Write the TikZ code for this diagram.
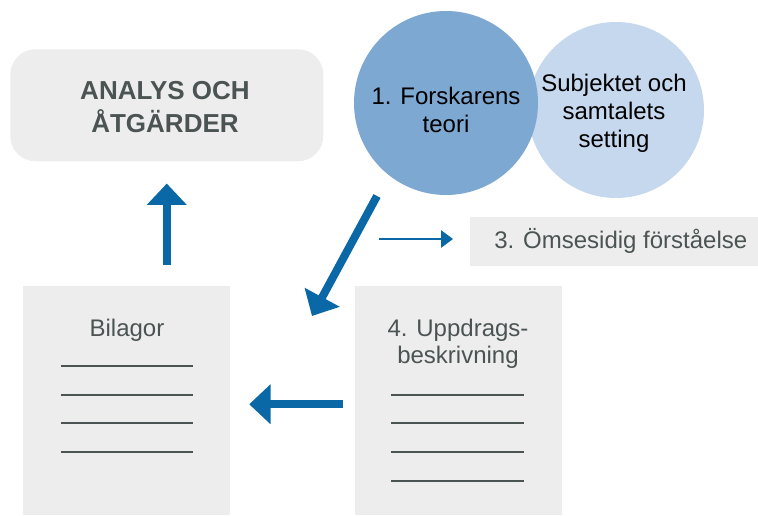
\documentclass[tikz,border=0pt]{standalone}
\usepackage{fontspec}
\setmainfont{Liberation Sans}
\usetikzlibrary{arrows.meta,positioning}
\definecolor{boxgray}{HTML}{EDEDED}
\definecolor{txtgray}{HTML}{4B5453}
\definecolor{darkblue}{HTML}{7DA8D2}
\definecolor{lightblue}{HTML}{C5D8EE}
\definecolor{arrowblue}{HTML}{0B68A6}
\tikzset{
  panel/.style={fill=boxgray,inner sep=0pt,anchor=north west},
  bubble/.style={circle,inner sep=0pt},
  boxtext/.style={anchor=base,align=center,text=txtgray,inner sep=0pt,
    font=\fontsize{18}{20.25}\selectfont},
  bubbletext/.style={anchor=base,align=center,inner sep=0pt,
    font=\fontsize{18}{21}\selectfont},
  bigarrow/.style={-{Triangle[length=16pt,width=29pt]},line width=6pt,arrowblue},
  thinarrow/.style={-{Triangle[length=9pt,width=13pt]},line width=1.5pt,arrowblue},
  blank/.style={txtgray,line width=0.8pt}
}
\begin{document}
\begin{tikzpicture}[x=0.75pt,y=-0.75pt]
\useasboundingbox (0,0) rectangle (758,515);
% boxes
\node[panel,rounded corners=19pt,minimum width=234.75pt,minimum height=84pt] (anal) at (10,49) {};
\node[panel,minimum width=155.25pt,minimum height=171.75pt] (bil) at (23,286) {};
\node[panel,minimum width=155.25pt,minimum height=171.75pt] (upp) at (355,286) {};
\node[panel,minimum width=216pt,minimum height=36.75pt] (ms) at (470,217) {};
% circles
\node[bubble,fill=lightblue,minimum size=132pt] (subj) at (616,110) {};
\node[bubble,fill=darkblue,minimum size=138pt] (fors) at (446,103) {};
% texts (base = last line)
\node[boxtext,font=\fontsize{19.5}{24.75}\selectfont\bfseries] (analt) at (165,132) {ANALYS OCH\\ÅTGÄRDER};
\node[bubbletext] (forst) at (446,132) {1. Forskarens\\teori};
\node[bubbletext] (subjt) at (614,147) {Subjektet och\\samtalets\\setting};
\node[boxtext,anchor=base west] (mst) at (494,248) {3. Ömsesidig förståelse};
\node[boxtext] (bilt) at (127,336) {Bilagor};
\node[boxtext] (uppt) at (458,363) {4. Uppdrags-\\beskrivning};
\foreach \y in {366,395,423,452} \draw[blank] (61,\y) -- (193,\y);
\foreach \y in {395,423,452,481} \draw[blank] (391,\y) -- (524,\y);
% arrows
\coordinate (d1) at (377,196);
\coordinate (d2) at (312,316);
\coordinate (t1) at (379,239);
\draw[bigarrow] (d1) -- (d2);
\draw[thinarrow,shorten >=12.75pt] (t1) -- (t1 -| ms.west);
\draw[bigarrow,shorten <=15.75pt,shorten >=16.5pt] (anal.south |- bil.north) -- (anal.south);
\draw[bigarrow,shorten <=9pt,shorten >=14pt] ([yshift=-2.6pt]upp.west) -- ([yshift=-2.6pt]upp.west -| bil.east);
\end{tikzpicture}
\end{document}
